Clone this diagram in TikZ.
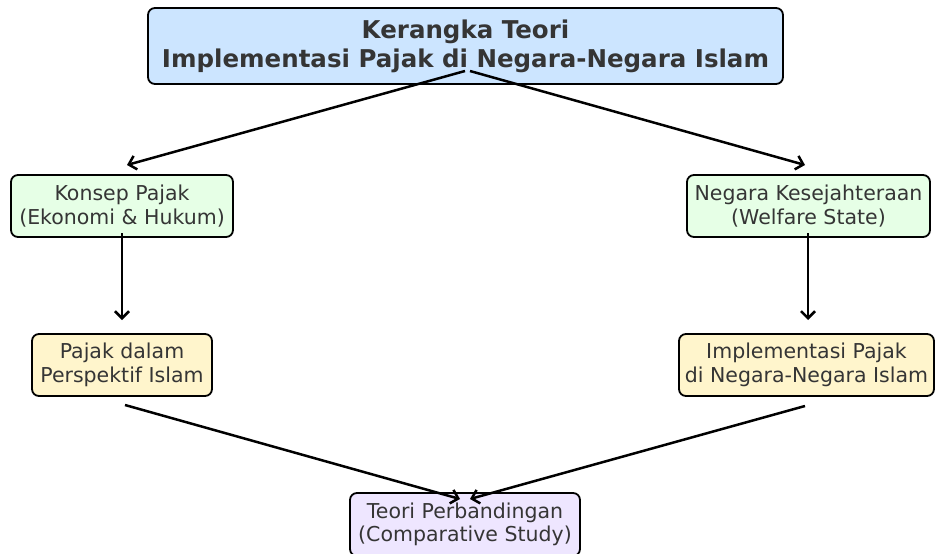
\documentclass[tikz,border=0pt]{standalone}
\usepackage{fontspec}
\setmainfont{DejaVu Sans}
\usetikzlibrary{arrows.meta}
\definecolor{txt}{HTML}{353535}
\definecolor{cblue}{HTML}{CCE5FF}
\definecolor{cgreen}{HTML}{E6FFE6}
\definecolor{cyellow}{HTML}{FFF5CC}
\definecolor{cpurple}{HTML}{EEE6FF}
\tikzset{
  box/.style={draw=black, line width=1.8pt, rounded corners=7pt, text=txt, align=center, inner sep=0pt},
  norm/.style={box, font=\fontsize{20.5}{23.5}\selectfont},
  arr/.style={line width=2.5pt, -{Straight Barb[length=7pt,width=14pt,line width=2.5pt]}},
}
\begin{document}
\begin{tikzpicture}[x=1pt,y=-1pt]
\useasboundingbox (0,0) rectangle (935,554);
\node[box, fill=cblue, minimum width=635pt, minimum height=76pt, font=\fontsize{24.5}{29}\selectfont\bfseries] (top) at (465.5,46) {Kerangka Teori\\Implementasi Pajak di Negara-Negara Islam};
\node[norm, fill=cgreen, minimum width=222pt, minimum height=62pt] (konsep) at (122,206) {Konsep Pajak\\(Ekonomi \& Hukum)};
\node[norm, fill=cgreen, minimum width=243pt, minimum height=62pt] (negara) at (808.5,206) {Negara Kesejahteraan\\(Welfare State)};
\node[norm, fill=cyellow, minimum width=180pt, minimum height=62pt] (islam) at (122,365) {Pajak dalam\\Perspektif Islam};
\node[norm, fill=cyellow, minimum width=255pt, minimum height=62pt] (impl) at (806.5,365) {Implementasi Pajak\\di Negara-Negara Islam};
\node[norm, fill=cpurple, minimum width=230pt, minimum height=63pt] (teori) at (465,524.5) {Teori Perbandingan\\(Comparative Study)};
\coordinate (t1) at (465,71);
\coordinate (t2) at (470,71);
\coordinate (k1) at (127,165);
\coordinate (n1) at (805,165);
\coordinate (k2) at (122,233);
\coordinate (k3) at (122,320);
\coordinate (n2) at (808,233);
\coordinate (n3) at (808,320);
\coordinate (i1) at (125,405);
\coordinate (m1) at (805,406);
\coordinate (b1) at (460,499);
\coordinate (b2) at (470,499);
\draw[arr] (t1) -- (k1);
\draw[arr] (t2) -- (n1);
\draw[arr] (k2) -- (k3);
\draw[arr] (n2) -- (n3);
\draw[arr] (i1) -- (b1);
\draw[arr] (m1) -- (b2);
\end{tikzpicture}
\end{document}
